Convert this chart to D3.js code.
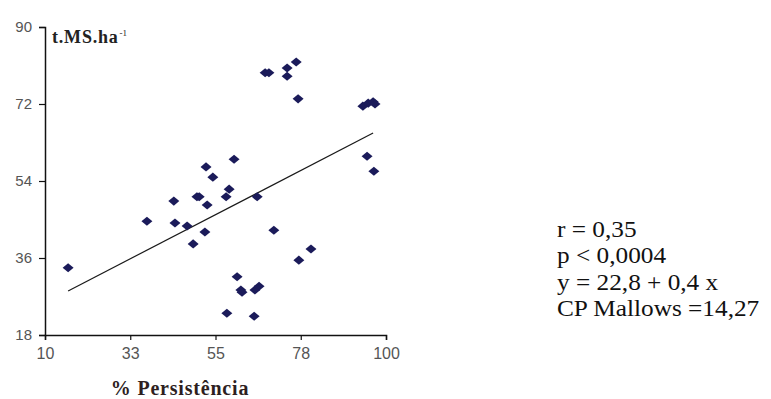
<!DOCTYPE html>
<html>
<head>
<meta charset="utf-8">
<script src="https://cdnjs.cloudflare.com/ajax/libs/d3/7.8.5/d3.min.js"></script>
<style>
  body { margin: 0; background: #fff; }
  svg { display: block; }
</style>
</head>
<body>
<svg id="chart"></svg>
<script>
// % Persistência (x) and t.MS.ha-1 (y)
var persistencia = [16.1, 36.9, 44.0, 44.3, 47.5, 49.1, 50.1, 50.7, 52.2, 52.8,
    52.5, 54.3, 59.9, 58.6, 57.8, 66.0, 70.4, 60.7, 61.7, 62.0,
    65.4, 66.5, 58.0, 65.2, 77.0, 80.2, 68.1, 69.1, 73.9, 73.9,
    76.3, 76.8, 93.9, 95.3, 96.6, 97.1, 95.0, 96.8];
var producao = [33.7, 44.6, 49.3, 44.2, 43.5, 39.3, 50.3, 50.3, 42.1, 48.4,
    57.3, 54.9, 59.1, 52.1, 50.3, 50.3, 42.5, 31.6, 28.5, 28.0,
    28.5, 29.4, 23.1, 22.4, 35.5, 38.1, 79.3, 79.3, 78.5, 80.4,
    81.8, 73.2, 71.5, 72.2, 72.5, 72.0, 59.8, 56.3];

// fitted line as drawn
var fitX = [16.1, 96.6];
var fitY = [28.3, 65.2];

var xTicks = [10, 32.5, 55, 77.5, 100];
var xTickLabels = ['10', '33', '55', '78', '100'];
var yTicks = [18, 36, 54, 72, 90];

var stats = ['r = 0,35', 'p < 0,0004', 'y = 22,8 + 0,4 x', 'CP Mallows =14,27'];

var width = 771, height = 399;

var svg = d3.select('#chart')
    .attr('width', width)
    .attr('height', height);

var x = d3.scaleLinear()
    .domain([10, 100])
    .range([45, 386]);

var y = d3.scaleLinear()
    .domain([18, 90])
    .range([335, 27]);

var xAxis = d3.axisBottom(x)
    .tickValues(xTicks)
    .tickSize(5)
    .tickPadding(8)
    .tickFormat(function (d, i) { return xTickLabels[i]; });

var yAxis = d3.axisLeft(y)
    .tickValues(yTicks)
    .tickSize(6)
    .tickPadding(7);

var gx = svg.append('g')
    .attr('transform', 'translate(0,' + 335 + ')')
    .call(xAxis);

var gy = svg.append('g')
    .attr('transform', 'translate(' + 45 + ',0)')
    .call(yAxis);

[gx, gy].forEach(function (g) {
    g.select('.domain').attr('stroke', '#111').attr('stroke-width', 1.5);
    g.selectAll('.tick line').attr('stroke', '#111').attr('stroke-width', 1.2);
    g.selectAll('.tick text')
        .attr('fill', '#555')
        .style('font-family', 'Arial, "Liberation Sans", sans-serif')
        .style('font-size', '16px');
});
gy.selectAll('.tick text').style('font-size', '15px');

// regression line
svg.append('line')
    .attr('x1', x(fitX[0]))
    .attr('y1', y(fitY[0]))
    .attr('x2', x(fitX[1]))
    .attr('y2', y(fitY[1]))
    .attr('stroke', '#1a1a1a')
    .attr('stroke-width', 1.2);

// points as diamonds
svg.append('g')
    .selectAll('path')
    .data(persistencia)
    .enter().append('path')
    .attr('d', d3.symbol().type(d3.symbolDiamond2).size(58))
    .attr('transform', function (d, i) {
        return 'translate(' + x(d) + ',' + y(producao[i]) + ') scale(1.15,0.95)';
    })
    .attr('fill', '#1b1b5a');

// y axis title
var yt = svg.append('text')
    .attr('x', 52)
    .attr('y', 43)
    .style('font-family', '"Liberation Serif", "Times New Roman", serif')
    .style('font-weight', 'bold')
    .style('font-size', '18px')
    .style('letter-spacing', '0.8px')
    .attr('fill', '#222')
    .text('t.MS.ha');
yt.append('tspan')
    .attr('dy', -7)
    .attr('dx', 1)
    .style('font-size', '9px')
    .style('font-weight', 'normal')
    .style('letter-spacing', '0px')
    .text('-1');

// x axis title
svg.append('text')
    .attr('x', 180)
    .attr('y', 395)
    .attr('text-anchor', 'middle')
    .style('font-family', '"Liberation Serif", "Times New Roman", serif')
    .style('font-weight', 'bold')
    .style('font-size', '20px')
    .style('letter-spacing', '0.8px')
    .attr('fill', '#2e1f1f')
    .text('% Persistência');

// stats block
svg.append('g')
    .attr('transform', 'translate(557,0) scale(1.1,1)')
    .selectAll('text')
    .data(stats)
    .enter().append('text')
    .attr('x', 0)
    .attr('y', function (d, i) { return 237 + i * 26.5; })
    .style('font-family', '"Liberation Serif", "Times New Roman", serif')
    .style('font-size', '23px')
    .attr('fill', '#111')
    .text(function (d) { return d; });
</script>
</body>
</html>
